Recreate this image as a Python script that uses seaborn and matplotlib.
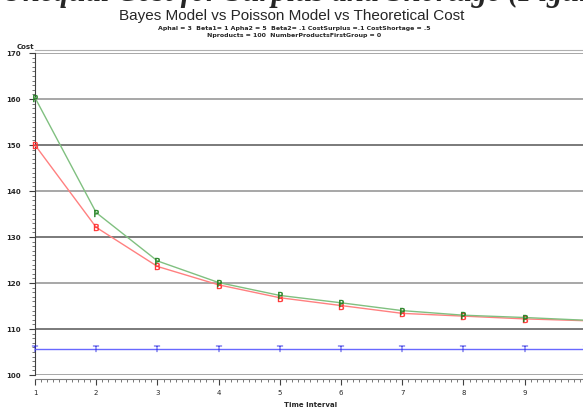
import matplotlib
matplotlib.use('Agg')
import matplotlib.pyplot as plt
import numpy as np
import pandas as pd
import seaborn as sns
from matplotlib.ticker import MultipleLocator

# data
time_interval = [1, 2, 3, 4, 5, 6, 7, 8, 9, 10]
bayes_cost = [150.0, 132.1, 123.6, 119.6, 116.8, 115.1, 113.4, 112.8, 112.2, 111.8]
poisson_cost = [160.3, 135.3, 124.8, 120.1, 117.3, 115.7, 114.0, 113.0, 112.5, 111.9]
theoretical_cost = [105.7] * 10
y_ticks = [100, 110, 120, 130, 140, 150, 160, 170]
x_ticks = [1, 2, 3, 4, 5, 6, 7, 8, 9]

df = pd.DataFrame({
    'Time Interval': time_interval * 3,
    'Cost': bayes_cost + poisson_cost + theoretical_cost,
    'Model': ['Bayes'] * 10 + ['Poisson'] * 10 + ['Theoretical'] * 10,
})

sns.set_style('white')
plt.rcParams['font.family'] = ['DejaVu Sans']

fig = plt.figure(figsize=(5.83, 4.09), dpi=100)
ax = fig.add_axes([0.060, 0.0831, 0.945, 0.7873])

# reference lines every 10
for y, c in zip(y_ticks, ['#a0a0a0', '#707070', '#a0a0a0', '#707070',
                          '#a0a0a0', '#707070', '#a0a0a0', '#a0a0a0']):
    ax.axhline(y, color=c, lw=1.3, zorder=1)

line_colors = {'Bayes': '#ff8080', 'Poisson': '#80c080', 'Theoretical': '#6868ff'}
mark_colors = {'Bayes': '#ff3030', 'Poisson': '#208020', 'Theoretical': '#2020e0'}
markers = {'Bayes': r'$\mathrm{B}$', 'Poisson': r'$\mathrm{P}$',
           'Theoretical': r'$\mathrm{T}$'}
sns.lineplot(data=df, x='Time Interval', y='Cost', hue='Model', style='Model',
             palette=line_colors, markers=markers, dashes=False,
             markersize=5, linewidth=1, legend=False, ax=ax, zorder=3)
for line, model in zip(ax.get_lines()[-3:], ['Bayes', 'Poisson', 'Theoretical']):
    line.set_markeredgecolor(mark_colors[model])
    line.set_markerfacecolor(mark_colors[model])
    line.set_markeredgewidth(0.3)
    line.set_clip_on(False)

ax.set_xlim(1, 10)
ax.set_ylim(100, 170)
ax.set_xticks(x_ticks)
ax.set_yticks(y_ticks)
ax.xaxis.set_minor_locator(MultipleLocator(0.1))
ax.yaxis.set_minor_locator(MultipleLocator(1))
ax.tick_params(axis='both', which='major', direction='out', length=4,
               width=0.8, color='#404040', labelsize=5)
ax.tick_params(axis='both', which='minor', direction='out', length=2,
               width=0.6, color='#606060')
ax.tick_params(axis='both', bottom=True, left=True, which='both')
for lab in ax.get_xticklabels() + ax.get_yticklabels():
    lab.set_fontweight('bold')
ax.tick_params(axis='x', pad=4)
ax.tick_params(axis='y', pad=6)

ax.spines['left'].set_color('#404040')
ax.spines['bottom'].set_color('#808080')
ax.spines['top'].set_color('#b0b0b0')
ax.spines['right'].set_visible(False)
ax.spines['bottom'].set_position(('outward', 3))
ax.spines['top'].set_position(('outward', 2))

ax.set_xlabel('Time Interval', fontsize=5, fontweight='bold', labelpad=4)
ax.set_ylabel('')
fig.text(0.028, 0.877, 'Cost', fontsize=5, fontweight='bold', ha='left', va='bottom')

# cut-off page heading above the chart
fig.text(0.52, 1 - 1.5 / 409, 'Unequal Cost for Surplus and Shortage (Figure',
         fontsize=22, family='Liberation Serif', style='italic', fontweight='bold',
         ha='center', va='baseline')
fig.text(0.50, 1 - 20 / 409, 'Bayes Model vs Poisson Model vs Theoretical Cost',
         fontsize=11, family='Liberation Sans', ha='center', va='baseline')
fig.text(0.505, 1 - 30 / 409,
         'Aphal = 3  Beta1= 1 Apha2 = 5  Beta2= .1 CostSurplus =.1 CostShortage = .5',
         fontsize=4.5, fontweight='bold', ha='center', va='baseline')
fig.text(0.505, 1 - 37 / 409, 'Nproducts = 100  NumberProductsFirstGroup = 0',
         fontsize=4.5, fontweight='bold', ha='center', va='baseline')

fig.savefig('out.png', dpi=100)
plt.close(fig)
